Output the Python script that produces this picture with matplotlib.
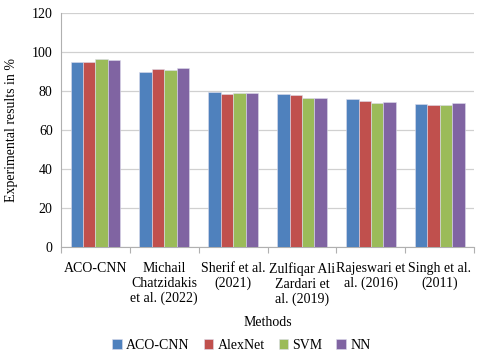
import numpy as np
import matplotlib
matplotlib.use("Agg")
import matplotlib.pyplot as plt

plt.rcParams['font.family'] = ['Liberation Serif', 'DejaVu Serif']

methods = ['ACO-CNN', 'Michail\nChatzidakis\net al. (2022)', 'Sherif et al.\n(2021)',
           'Zulfiqar Ali\nZardari et\nal. (2019)', 'Rajeswari et\nal. (2016)', 'Singh et al.\n(2011)']
aco_cnn = [95.0, 89.7, 79.6, 78.3, 75.7, 73.1]
alexnet = [95.0, 91.1, 78.3, 77.9, 75.0, 72.8]
svm = [96.4, 90.6, 79.0, 76.6, 74.0, 72.8]
nn = [95.7, 91.6, 78.8, 76.2, 74.2, 74.0]

series = [('ACO-CNN', aco_cnn, '#4F81BD'), ('AlexNet', alexnet, '#C0504D'),
          ('SVM', svm, '#9BBB59'), ('NN', nn, '#8064A2')]

fig = plt.figure(figsize=(4.8, 3.59), dpi=100)
ax = fig.add_axes([0.127, 0.312, 0.861, 0.652])

x = np.arange(len(methods))
w = 0.18
for i, (name, vals, col) in enumerate(series):
    ax.bar(x + (i - 1.5) * w, vals, w, color=col, label=name,
           edgecolor='#dcdcec', linewidth=0.4, zorder=3)

ax.set_xlim(-0.5, len(methods) - 0.5)
ax.set_ylim(0, 120)
ax.set_yticks(range(0, 121, 20))
ax.yaxis.grid(True, color='#d0d0d0', linewidth=0.9, zorder=0)
ax.tick_params(axis='y', length=0, labelsize=10, pad=6)
ax.set_xticks(np.arange(-0.5, len(methods), 1))
ax.set_xticklabels([])
ax.set_xticks(x, minor=True)
ax.set_xticklabels(methods, minor=True, fontsize=10, linespacing=1.15)
ax.tick_params(axis='x', which='major', length=4, color='#b0b0b0')
ax.tick_params(axis='x', which='minor', length=0, pad=11)
for s in ['top', 'right']:
    ax.spines[s].set_visible(False)
ax.spines['left'].set_color('#b0b0b0')
ax.spines['bottom'].set_color('#b0b0b0')

ax.set_ylabel('Experimental results in %', fontsize=10, labelpad=10)
ax.set_xlabel('Methods', fontsize=10)
ax.xaxis.set_label_coords(0.5, -0.295)
ax.legend(loc='center', bbox_to_anchor=(0.503, 0.037), bbox_transform=fig.transFigure,
          ncol=4, frameon=False, fontsize=10, handlelength=0.7, handleheight=0.7,
          columnspacing=1.0, handletextpad=0.3)

fig.savefig('out.png', dpi=100)
